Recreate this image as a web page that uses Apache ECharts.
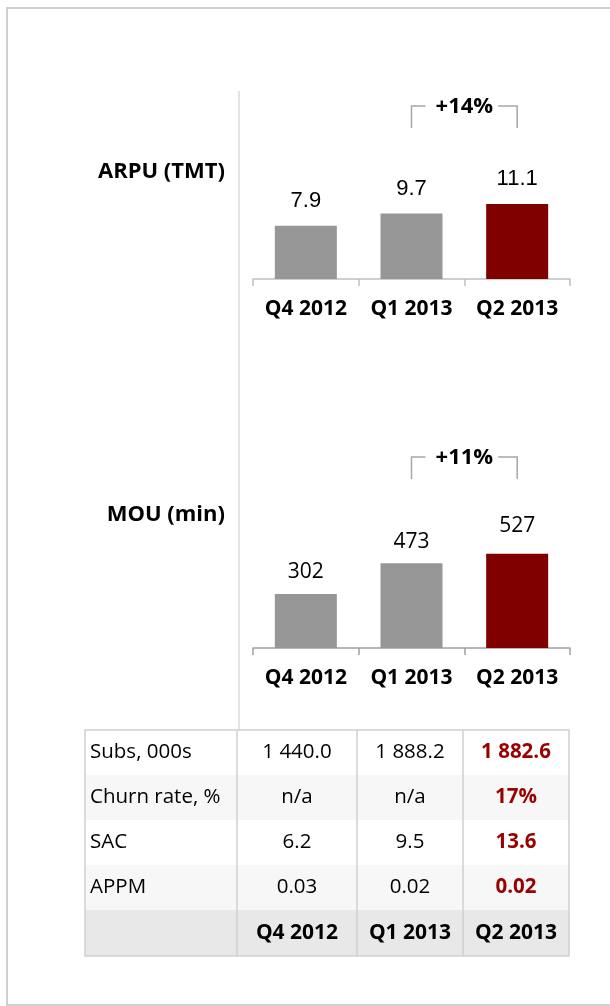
<!DOCTYPE html>
<html>
<head>
<meta charset="utf-8">
<script src="https://cdn.jsdelivr.net/npm/echarts@6/dist/echarts.min.js"></script>
<style>
  html, body { margin: 0; padding: 0; background: #fff; }
  #chart { width: 610px; height: 1006px; }
</style>
</head>
<body>
<div id="chart"></div>
<script>
// data
const quarters = ['Q4 2012', 'Q1 2013', 'Q2 2013']
const arpuValues = [7.9, 9.7, 11.1]
const mouValues = [302, 473, 527]
const arpuGrowth = '+14%'
const mouGrowth = '+11%'
const rowLabels = ['Subs, 000s', 'Churn rate, %', 'SAC', 'APPM']
const subsValues = ['1 440.0', '1 888.2', '1 882.6']
const churnValues = ['n/a', 'n/a', '17%']
const sacValues = ['6.2', '9.5', '13.6']
const appmValues = ['0.03', '0.02', '0.02']
const tableValues = [subsValues, churnValues, sacValues, appmValues]

const GREY = '#969696'
const RED = '#800000'
const FONT = "'Open Sans', sans-serif"

const chart = echarts.init(document.getElementById('chart'))

function barColor(p) {
  return p.dataIndex === quarters.length - 1 ? RED : GREY
}

function xAxisFor(gridIndex, lineColor) {
  return {
    type: 'category',
    gridIndex: gridIndex,
    data: quarters,
    axisLine: { lineStyle: { color: lineColor, width: 1.5 } },
    axisTick: { show: true, length: 7, interval: 0, lineStyle: { color: lineColor, width: 1.5 } },
    axisLabel: { margin: 20, color: '#000', fontFamily: FONT, fontWeight: 'bold', fontSize: 21, interval: 0 }
  }
}

const option = {
  animation: false,
  grid: [
    { left: 253, width: 317, top: 144, height: 135 },
    { left: 253, width: 317, top: 469, height: 179 }
  ],
  xAxis: [xAxisFor(0, '#c0c0c0'), xAxisFor(1, '#a0a0a0')],
  yAxis: [
    { type: 'value', gridIndex: 0, min: 0, max: 20, show: false },
    { type: 'value', gridIndex: 1, min: 0, max: 1000, show: false }
  ],
  series: [
    {
      type: 'bar',
      xAxisIndex: 0,
      yAxisIndex: 0,
      barWidth: 62,
      data: arpuValues,
      itemStyle: { color: barColor },
      label: {
        show: true,
        position: 'top',
        distance: 14,
        color: '#000',
        fontFamily: "'Liberation Sans', Arial, sans-serif",
        fontSize: 22,
        formatter: p => p.value.toFixed(1)
      }
    },
    {
      type: 'bar',
      xAxisIndex: 1,
      yAxisIndex: 1,
      barWidth: 62,
      data: mouValues.map((v, i) => ({ value: v, label: { distance: i === 2 ? 17 : 11 } })),
      itemStyle: { color: barColor },
      label: {
        show: true,
        position: 'top',
        color: '#000',
        fontFamily: FONT,
        fontSize: 21
      }
    }
  ]
}
chart.setOption(option)

// brackets between the last two bars
function bracket(gridIndex, topY, text) {
  const x1 = chart.convertToPixel({ xAxisIndex: gridIndex }, quarters[1])
  const x2 = chart.convertToPixel({ xAxisIndex: gridIndex }, quarters[2])
  const mid = (x1 + x2) / 2
  const lineStyle = { stroke: '#a6a6a6', lineWidth: 1.5, fill: 'none' }
  return [
    { type: 'polyline', shape: { points: [[x1, topY + 22], [x1, topY], [x1 + 14, topY]] }, style: lineStyle },
    { type: 'polyline', shape: { points: [[x2 - 19, topY], [x2, topY], [x2, topY + 22]] }, style: lineStyle },
    {
      type: 'text',
      style: { text: text, x: mid, y: topY + 1, align: 'center', verticalAlign: 'middle', font: 'bold 22px ' + FONT, fill: '#000' }
    }
  ]
}

// table built from the arrays
const colX = [85, 237, 357, 463, 569]
const rowY = [730, 775, 820, 865, 910, 956]
const tableGraphics = []
const nRows = rowLabels.length + 1
for (let r = 0; r < nRows; r++) {
  const isHead = r === rowLabels.length
  tableGraphics.push({
    type: 'rect',
    shape: { x: colX[0], y: rowY[r], width: colX[4] - colX[0], height: rowY[r + 1] - rowY[r] },
    style: { fill: isHead ? '#e8e8e8' : (r % 2 ? '#f7f7f7' : '#ffffff') }
  })
}
const cellLine = { stroke: '#d0d0d0', lineWidth: 1.5 }
for (let c = 1; c < colX.length - 1; c++) {
  tableGraphics.push({ type: 'line', shape: { x1: colX[c], y1: rowY[0], x2: colX[c], y2: rowY[rowY.length - 1] }, style: cellLine })
}
tableGraphics.push({
  type: 'rect',
  shape: { x: colX[0], y: rowY[0], width: colX[4] - colX[0], height: rowY[rowY.length - 1] - rowY[0] },
  style: { fill: 'none', stroke: '#d0d0d0', lineWidth: 1.5 }
})
rowLabels.forEach((label, r) => {
  const cy = (rowY[r] + rowY[r + 1]) / 2
  tableGraphics.push({
    type: 'text',
    style: { text: label, x: colX[0] + 5, y: cy, align: 'left', verticalAlign: 'middle', font: '20.5px ' + FONT, fill: '#000' }
  })
  tableValues[r].forEach((v, c) => {
    const last = c === quarters.length - 1
    tableGraphics.push({
      type: 'text',
      style: {
        text: v,
        x: (colX[c + 1] + colX[c + 2]) / 2,
        y: cy,
        align: 'center',
        verticalAlign: 'middle',
        font: (last ? 'bold ' : '') + '20.5px ' + FONT,
        fill: last ? '#990000' : '#000'
      }
    })
  })
})
quarters.forEach((q, c) => {
  const r = rowLabels.length
  tableGraphics.push({
    type: 'text',
    style: {
      text: q,
      x: (colX[c + 1] + colX[c + 2]) / 2,
      y: (rowY[r] + rowY[r + 1]) / 2,
      align: 'center',
      verticalAlign: 'middle',
      font: 'bold 21px ' + FONT,
      fill: '#000'
    }
  })
})

chart.setOption({
  graphic: [
    { type: 'rect', shape: { x: 7, y: 8, width: 640, height: 997 }, style: { fill: 'none', stroke: '#d0d0d0', lineWidth: 2 } },
    { type: 'line', shape: { x1: 239, y1: 91, x2: 239, y2: 730 }, style: { stroke: '#c8c8c8', lineWidth: 1 } },
    { type: 'text', style: { text: 'ARPU (TMT)', x: 225, y: 172, align: 'right', verticalAlign: 'middle', font: 'bold 22px ' + FONT, fill: '#000' } },
    { type: 'text', style: { text: 'MOU (min)', x: 225, y: 515, align: 'right', verticalAlign: 'middle', font: 'bold 22px ' + FONT, fill: '#000' } }
  ]
    .concat(bracket(0, 106, arpuGrowth))
    .concat(bracket(1, 457, mouGrowth))
    .concat(tableGraphics)
})
</script>
</body>
</html>
